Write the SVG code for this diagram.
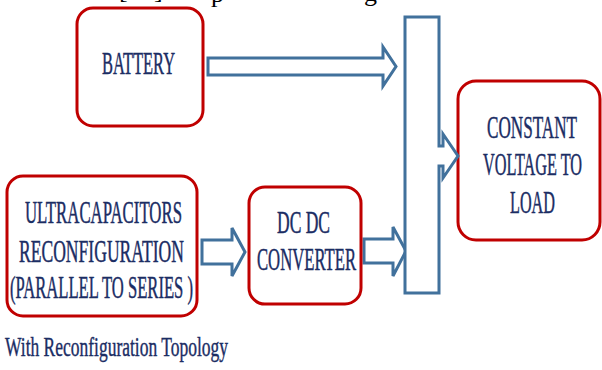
<svg xmlns="http://www.w3.org/2000/svg" width="602" height="370" viewBox="0 0 602 370">
<style>
.box{fill:#fff;stroke:#c00000;stroke-width:3}
.arr{fill:#fff;stroke:#41719c;stroke-width:3;stroke-linejoin:miter}
.lbl{font-family:"Liberation Serif","Times New Roman",serif;font-size:32px;fill:#1b2d64;stroke:#1b2d64;stroke-width:0.5}
.cap{font-family:"Liberation Serif","Times New Roman",serif;font-size:27px;fill:#1b2d64;stroke:#1b2d64;stroke-width:0.4}
.top{font-family:"Liberation Serif","Times New Roman",serif;font-size:26px;fill:#000}
</style>
<rect width="602" height="370" fill="#fff"/>
<g id="fragment">
<text class="top" y="-2"><tspan x="119">[</tspan><tspan x="154">]</tspan><tspan x="211" y="2">p</tspan><tspan x="364" y="1">g</tspan></text>
</g>
<g id="connectors">
<path class="arr" d="M208,58 H383 V47 L396,66.5 L383,86 V75 H208 Z"/>
<path class="arr" d="M202,240 H232 V228 L245,252 L232,276 V264 H202 Z"/>
<path class="arr" d="M364,239 H393 V227 L406,251 L393,276 V263 H364 Z"/>
</g>
<g id="battery">
<rect class="box" x="77" y="8" width="126" height="118" rx="16"/>
<text class="lbl" x="102" y="74" textLength="73" lengthAdjust="spacingAndGlyphs">BATTERY</text>
</g>
<g id="ultracapacitors">
<rect class="box" x="7" y="176" width="190" height="140" rx="16"/>
<text class="lbl" x="25" y="223" textLength="157" lengthAdjust="spacingAndGlyphs">ULTRACAPACITORS</text>
<text class="lbl" x="19" y="262" textLength="165" lengthAdjust="spacingAndGlyphs">RECONFIGURATION</text>
<text class="lbl" x="10" y="298" textLength="183" lengthAdjust="spacingAndGlyphs">(PARALLEL TO SERIES )</text>
</g>
<g id="dcdc">
<rect class="box" x="249" y="187" width="112" height="117" rx="16"/>
<text class="lbl" x="277" y="233" textLength="53" lengthAdjust="spacingAndGlyphs">DC DC</text>
<text class="lbl" x="257" y="270" textLength="99" lengthAdjust="spacingAndGlyphs">CONVERTER</text>
</g>
<g id="load">
<rect class="box" x="458" y="81" width="142" height="159" rx="18"/>
<text class="lbl" x="487" y="138" textLength="90" lengthAdjust="spacingAndGlyphs">CONSTANT</text>
<text class="lbl" x="483" y="175" textLength="99" lengthAdjust="spacingAndGlyphs">VOLTAGE TO</text>
<text class="lbl" x="510" y="213" textLength="45" lengthAdjust="spacingAndGlyphs">LOAD</text>
</g>
<g id="bus">
<path class="arr" d="M405,17 H439 V146 H443 V134 L458,156 L443,178 V166 H439 V293 H405 Z"/>
</g>
<g id="caption">
<text class="cap" x="5" y="356" textLength="223" lengthAdjust="spacingAndGlyphs">With Reconfiguration Topology</text>
</g>
</svg>
